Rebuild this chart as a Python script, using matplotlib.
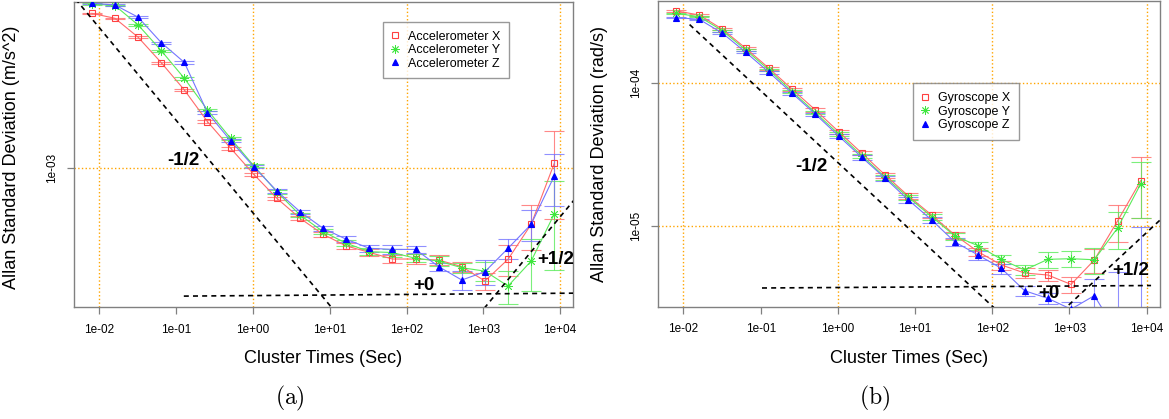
import numpy as np
import matplotlib
matplotlib.use("Agg")
import matplotlib.pyplot as plt
from matplotlib.lines import Line2D

plt.rcParams['font.family'] = ['Liberation Sans', 'DejaVu Sans']

# Cluster times (s)
tau = [0.008, 0.016, 0.032, 0.064, 0.128, 0.256, 0.512, 1.024, 2.048, 4.096,
       8.192, 16.384, 32.768, 65.536, 131.072, 262.144, 524.288, 1048.576,
       2097.152, 4194.304, 8388.608]

# Accelerometer Allan deviation (m/s^2)
acc_x = [6.85e-3, 6.44e-3, 5.09e-3, 3.71e-3, 2.64e-3, 1.78e-3, 1.28e-3, 9.25e-4,
         6.86e-4, 5.35e-4, 4.38e-4, 3.79e-4, 3.50e-4, 3.22e-4, 3.22e-4, 3.18e-4,
         2.93e-4, 2.45e-4, 3.21e-4, 4.96e-4, 1.06e-3]
acc_y = [7.70e-3, 7.55e-3, 5.93e-3, 4.31e-3, 3.05e-3, 2.06e-3, 1.447e-3, 1.029e-3,
         7.44e-4, 5.57e-4, 4.53e-4, 3.92e-4, 3.53e-4, 3.49e-4, 3.25e-4, 3.14e-4,
         2.89e-4, 2.77e-4, 2.30e-4, 3.14e-4, 5.64e-4]
acc_z = [7.77e-3, 7.60e-3, 6.53e-3, 4.76e-3, 3.72e-3, 1.99e-3, 1.405e-3, 1.016e-3,
         7.51e-4, 5.81e-4, 4.72e-4, 4.12e-4, 3.68e-4, 3.63e-4, 3.63e-4, 2.93e-4,
         2.48e-4, 2.75e-4, 3.68e-4, 4.96e-4, 9.05e-4]
# relative error bar half-lengths
acc_x_err = [0.01, 0.01, 0.012, 0.012, 0.015, 0.015, 0.018, 0.02, 0.022, 0.025, 0.03,
             0.035, 0.04, 0.05, 0.06, 0.06, 0.06, 0.11, 0.19, 0.27, 0.5]
acc_y_err = [0.01, 0.01, 0.012, 0.012, 0.015, 0.015, 0.018, 0.02, 0.022, 0.025, 0.03,
             0.035, 0.04, 0.05, 0.05, 0.06, 0.06, 0.12, 0.2, 0.31, 0.5]
acc_z_err = [0.01, 0.01, 0.012, 0.012, 0.015, 0.015, 0.018, 0.02, 0.022, 0.025, 0.03,
             0.035, 0.04, 0.05, 0.04, 0.05, 0.12, 0.15, 0.12, 0.19, 0.31]

# Gyroscope Allan deviation (rad/s)
gyro_x = [3.16e-4, 2.96e-4, 2.355e-4, 1.737e-4, 1.26e-4, 8.99e-5, 6.45e-5, 4.56e-5,
          3.225e-5, 2.276e-5, 1.625e-5, 1.199e-5, 8.70e-6, 6.65e-6, 5.38e-6, 4.73e-6,
          4.58e-6, 3.94e-6, 5.83e-6, 1.089e-5, 2.08e-5]
gyro_y = [3.04e-4, 2.88e-4, 2.30e-4, 1.689e-4, 1.226e-4, 8.66e-5, 6.18e-5, 4.39e-5,
          3.10e-5, 2.194e-5, 1.592e-5, 1.167e-5, 8.56e-6, 7.32e-6, 5.89e-6, 4.96e-6,
          5.89e-6, 5.95e-6, 5.85e-6, 9.73e-6, 1.98e-5]
gyro_z = [2.84e-4, 2.76e-4, 2.21e-4, 1.628e-4, 1.181e-4, 8.44e-5, 6.03e-5, 4.25e-5,
          3.02e-5, 2.16e-5, 1.525e-5, 1.107e-5, 7.78e-6, 6.31e-6, 5.10e-6, 3.56e-6,
          3.15e-6, 2.65e-6, 3.29e-6, 1.8e-6, 1.8e-6]
gyro_x_err = [0.01, 0.012, 0.015, 0.018, 0.02, 0.025, 0.028, 0.03, 0.035, 0.04, 0.045,
              0.05, 0.055, 0.06, 0.07, 0.08, 0.09, 0.13, 0.19, 0.29, 0.45]
gyro_y_err = [0.01, 0.012, 0.015, 0.018, 0.02, 0.025, 0.028, 0.03, 0.035, 0.04, 0.045,
              0.05, 0.055, 0.06, 0.065, 0.08, 0.13, 0.13, 0.2, 0.29, 0.42]
gyro_z_err = [0.01, 0.012, 0.015, 0.018, 0.02, 0.025, 0.028, 0.03, 0.035, 0.04, 0.045,
              0.05, 0.06, 0.07, 0.08, 0.08, 0.09, 0.12, 0.3, 1.68, 4.5]

xticks = [1e-2, 1e-1, 1e0, 1e1, 1e2, 1e3, 1e4]
xtick_labels = ['1e-02', '1e-01', '1e+00', '1e+01', '1e+02', '1e+03', '1e+04']
xgrid = [1e-2, 1e0, 1e2, 1e4]

# series styles: (line colour, marker colour, marker, filled, marker size, edge width)
STYLES = [
    ('#ff6a6a', '#ff4040', 's', False, 5, 0.8),
    ('#5aeb5a', '#3ee63e', (8, 2, 0), False, 6.5, 0.6),
    ('#7474ff', '#0000ff', '^', True, 5, 0.8),
]

GRAY = '#808080'
W, H = 1169, 419


def draw_panel(ax, series, errs, names, xlim, ylim, yticks, ytick_labels, ylabel,
               slopes, texts, legend_xy):
    ax.set_xscale('log')
    ax.set_yscale('log')
    ax.set_xlim(*xlim)
    ax.set_ylim(*ylim)

    for g in xgrid:
        ax.axvline(g, color='#ffa500', ls=':', lw=1.0, zorder=0)
    for g in yticks:
        ax.axhline(g, color='#ffa500', ls=':', lw=1.0, zorder=0)

    handles = []
    for vals, err, name, (lc, mc, mk, filled, ms, mew) in zip(series, errs, names, STYLES):
        v = np.array(vals)
        e = v * np.array(err)
        ax.errorbar(tau, v, yerr=e, fmt='none', ecolor=lc, elinewidth=0.8,
                    capsize=7, capthick=0.8, alpha=0.8, zorder=2)
        ax.plot(tau, v, color=lc, lw=0.8, marker=mk, ms=ms, mec=mc,
                mfc=mc if filled else 'none', mew=mew, zorder=3)
        handles.append(Line2D([], [], ls='none', marker=mk, ms=ms - 0.5, mec=mc,
                              mfc=mc if filled else 'none', mew=mew, label=name))

    # reference slope lines
    for (x0, x1, y0, y1) in slopes:
        ax.plot([x0, x1], [y0, y1], color='black', ls=(0, (3, 2.5)), lw=1.2, zorder=4)
    for (tx, ty, s) in texts:
        ax.text(tx, ty, s, fontsize=13.5, fontweight='bold', ha='center', va='center',
                zorder=5)

    ax.set_xticks(xticks)
    ax.set_xticklabels(xtick_labels)
    ax.set_yticks(yticks)
    ax.set_yticklabels(ytick_labels)
    ax.minorticks_off()
    ax.tick_params(axis='both', length=5, width=0.9, color=GRAY, labelsize=8.5)
    ax.tick_params(axis='x', pad=7)
    ax.tick_params(axis='y', pad=6)
    plt.setp(ax.get_yticklabels(), rotation=90, va='center')
    for sp in ax.spines.values():
        sp.set_color(GRAY)
        sp.set_linewidth(1.0)

    ax.set_ylabel(ylabel, fontsize=13)
    ax.set_xlabel('Cluster Times (Sec)', fontsize=13)

    leg = ax.legend(handles=handles, loc='upper left', bbox_to_anchor=legend_xy,
                    borderaxespad=0, fontsize=9, frameon=True, fancybox=False,
                    borderpad=0.7, handlelength=0.5, handletextpad=0.8,
                    labelspacing=0.12)
    leg.get_frame().set_edgecolor(GRAY)
    leg.get_frame().set_linewidth(1.0)
    leg.set_zorder(6)


fig = plt.figure(figsize=(W / 100, H / 100), dpi=100)

# panel (a)
ax1 = fig.add_axes([73.5 / W, (H - 307.3) / H, 499 / W, 305.3 / H])
c1 = 10 ** -3.242
c2 = 10 ** -5.264
draw_panel(ax1, [acc_x, acc_y, acc_z], [acc_x_err, acc_y_err, acc_z_err],
           ['Accelerometer X', 'Accelerometer Y', 'Accelerometer Z'],
           (10 ** -2.336, 10 ** 4.161), (10 ** -3.753, 10 ** -2.103),
           [1e-3], ['1e-03'], 'Allan Standard Deviation (m/s^2)',
           [(0.004, 100, c1 / 0.004 ** 0.5, c1 / 100 ** 0.5),
            (0.126, 3e4, 2.03e-4, 2.11e-4),
            (300, 3e4, c2 * 300 ** 0.5, c2 * 3e4 ** 0.5)],
           [(0.123, 1.10e-3, '-1/2'), (170, 2.32e-4, '+0'), (8770, 3.19e-4, '+1/2')],
           (0.620, 0.9345))
ax1.yaxis.set_label_coords(-0.107, 0.49)
ax1.xaxis.set_label_coords(0.5, -0.169)
ax1.xaxis.label.set_va('center')

# panel (b)
ax2 = fig.add_axes([657.7 / W, (H - 306.6) / H, 502.1 / W, 305.8 / H])
c3 = 10 ** -4.556
c4 = 10 ** -7.043
draw_panel(ax2, [gyro_x, gyro_y, gyro_z], [gyro_x_err, gyro_y_err, gyro_z_err],
           ['Gyroscope X', 'Gyroscope Y', 'Gyroscope Z'],
           (10 ** -2.334, 10 ** 4.170), (10 ** -5.559, 10 ** -3.430),
           [1e-5, 1e-4], ['1e-05', '1e-04'], 'Allan Standard Deviation (rad/s)',
           [(0.012, 1000, c3 / 0.012 ** 0.5, c3 / 1000 ** 0.5),
            (0.104, 11400, 3.72e-6, 3.87e-6),
            (800, 3e4, c4 * 800 ** 0.5, c4 * 3e4 ** 0.5)],
           [(0.455, 2.60e-5, '-1/2'), (543, 3.42e-6, '+0'), (6210, 4.91e-6, '+1/2')],
           (0.509, 0.730))
ax2.yaxis.set_label_coords(-0.099, 0.5)
ax2.xaxis.set_label_coords(0.5, -0.171)
ax2.xaxis.label.set_va('center')

# sub-figure captions
fig.text(290 / W, 1 - 398 / H, r'$\mathrm{(a)}$', math_fontfamily='cm', fontsize=17,
         ha='center', va='center')
fig.text(875 / W, 1 - 398 / H, r'$\mathrm{(b)}$', math_fontfamily='cm', fontsize=17,
         ha='center', va='center')

fig.savefig('out.png', dpi=100)
